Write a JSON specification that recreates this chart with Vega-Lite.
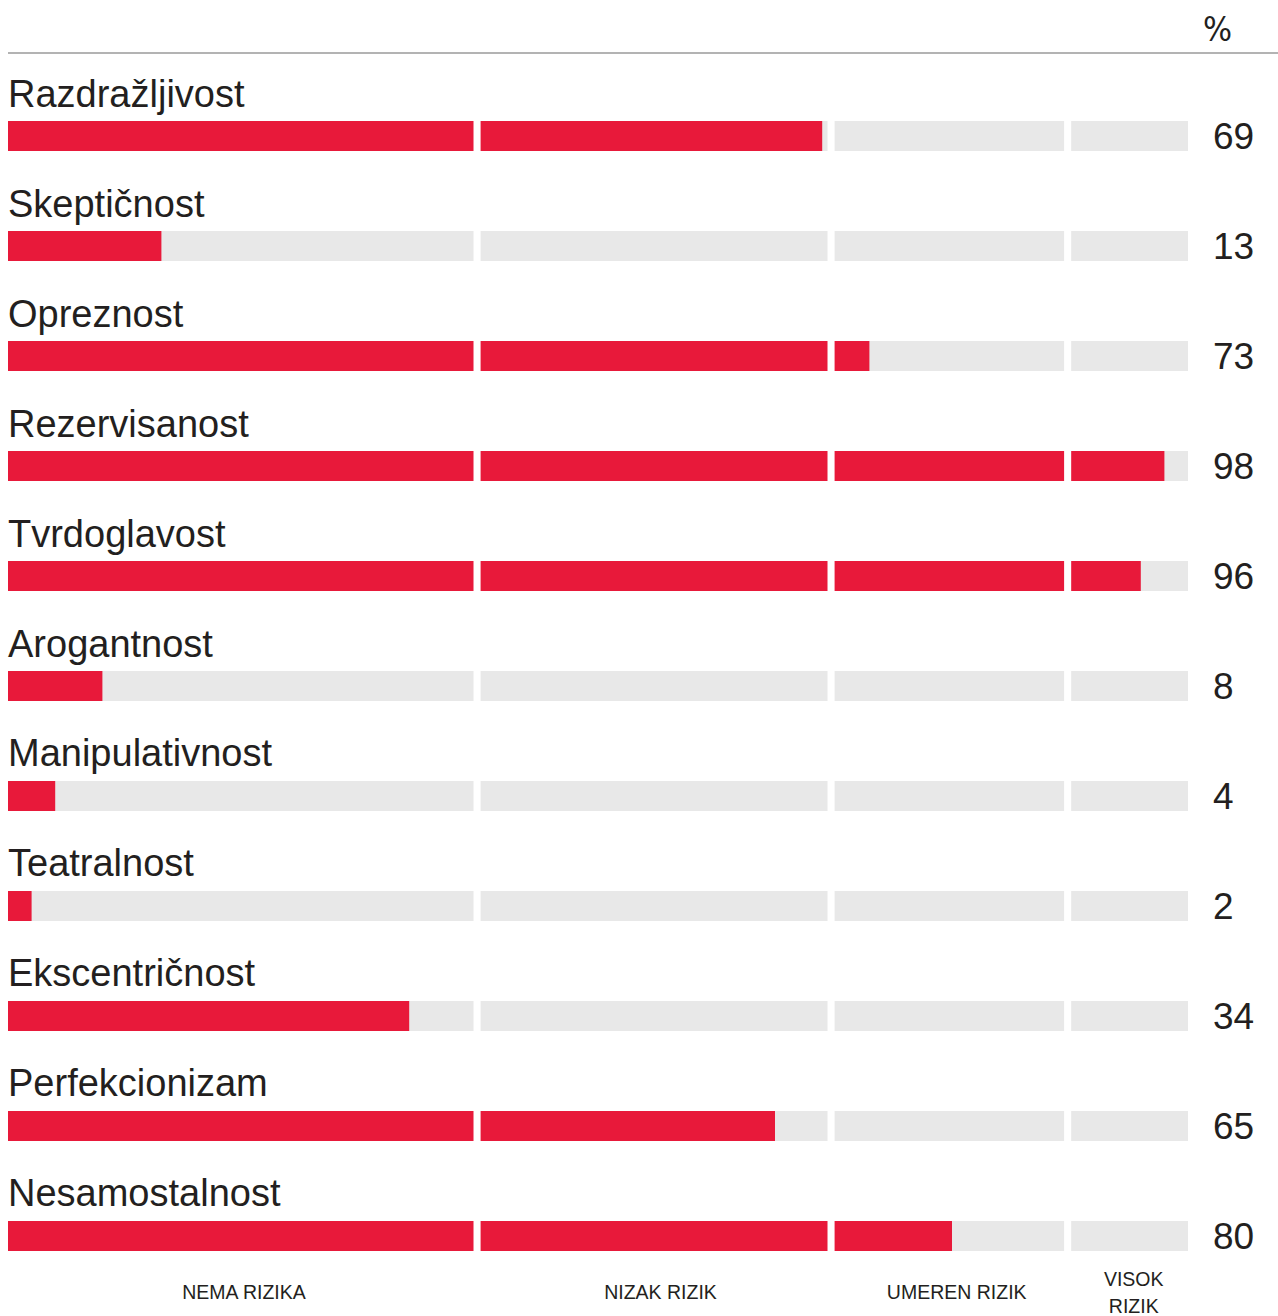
{
  "$schema": "https://vega.github.io/schema/vega-lite/v6.json",
  "width": 1270,
  "height": 1244,
  "autosize": {"type": "none"},
  "padding": {"left": 8, "top": 53, "right": 0, "bottom": 19},
  "background": "#ffffff",
  "config": {
    "view": {"stroke": null},
    "text": {"font": "Liberation Sans, Arial, sans-serif", "color": "#231f20"}
  },
  "datasets": {
    "rows": [
      {"name": "Razdražljivost", "value": 69},
      {"name": "Skeptičnost", "value": 13},
      {"name": "Opreznost", "value": 73},
      {"name": "Rezervisanost", "value": 98},
      {"name": "Tvrdoglavost", "value": 96},
      {"name": "Arogantnost", "value": 8},
      {"name": "Manipulativnost", "value": 4},
      {"name": "Teatralnost", "value": 2},
      {"name": "Ekscentričnost", "value": 34},
      {"name": "Perfekcionizam", "value": 65},
      {"name": "Nesamostalnost", "value": 80}
    ],
    "gaps": [
      {"g0": 39.45, "g1": 40.05},
      {"g0": 69.45, "g1": 70.05},
      {"g0": 89.5, "g1": 90.1}
    ],
    "segments": [
      {"label": "NEMA RIZIKA", "start": 0, "end": 40, "mid": 20, "lines": 1},
      {"label": "NIZAK RIZIK", "start": 40, "end": 70, "mid": 55.3, "lines": 1},
      {"label": "UMEREN RIZIK", "start": 70, "end": 90, "mid": 80.4, "lines": 1},
      {"label": "VISOK\nRIZIK", "start": 90, "end": 100, "mid": 95.4, "lines": 2}
    ]
  },
  "layer": [
    {
      "data": {"name": "rows"},
      "mark": {"type": "bar", "color": "#e8e8e8", "height": 30, "yOffset": 11},
      "encoding": {
        "y": {"field": "name", "type": "nominal", "sort": null, "axis": null,
              "scale": {"paddingInner": 0, "paddingOuter": 0.15455}},
        "x": {"datum": 0, "type": "quantitative", "axis": null,
              "scale": {"domain": [0, 107.627], "nice": false}},
        "x2": {"datum": 100}
      }
    },
    {
      "data": {"name": "rows"},
      "mark": {"type": "bar", "color": "#e8193a", "height": 30, "yOffset": 11},
      "encoding": {
        "y": {"field": "name", "type": "nominal", "sort": null, "axis": null},
        "x": {"field": "value", "type": "quantitative", "axis": null, "stack": null}
      }
    },
    {
      "data": {"name": "gaps"},
      "mark": {"type": "rect", "color": "#ffffff"},
      "encoding": {
        "x": {"field": "g0", "type": "quantitative", "axis": null},
        "x2": {"field": "g1"}
      }
    },
    {
      "data": {"values": [{"line": "top"}]},
      "mark": {"type": "rule", "color": "#9a9a9a", "strokeWidth": 1.5, "yOffset": -72},
      "encoding": {
        "y": {"datum": "Razdražljivost", "type": "nominal", "axis": null},
        "x": {"datum": 0, "type": "quantitative", "axis": null},
        "x2": {"datum": 107.627}
      }
    },
    {
      "data": {"values": [{"unit": "%"}]},
      "mark": {"type": "text", "align": "right", "baseline": "alphabetic", "fontSize": 34,
               "font": "Liberation Sans Narrow, DejaVu Sans Condensed, Liberation Sans, sans-serif",
               "dx": 44, "dy": -84.5},
      "encoding": {
        "y": {"datum": "Razdražljivost", "type": "nominal", "axis": null},
        "x": {"datum": 100, "type": "quantitative", "axis": null},
        "text": {"field": "unit"}
      }
    },
    {
      "data": {"name": "rows"},
      "mark": {"type": "text", "align": "left", "baseline": "alphabetic", "fontSize": 38, "dy": -18.5},
      "encoding": {
        "y": {"field": "name", "type": "nominal", "sort": null, "axis": null},
        "x": {"datum": 0, "type": "quantitative", "axis": null},
        "text": {"field": "name"}
      }
    },
    {
      "data": {"name": "rows"},
      "mark": {"type": "text", "align": "left", "baseline": "alphabetic", "fontSize": 37, "dy": 24, "dx": 25},
      "encoding": {
        "y": {"field": "name", "type": "nominal", "sort": null, "axis": null},
        "x": {"datum": 100, "type": "quantitative", "axis": null},
        "text": {"field": "value"}
      }
    },
    {
      "data": {"name": "segments"},
      "transform": [{"filter": "datum.lines == 1"}],
      "mark": {"type": "text", "align": "center", "baseline": "middle", "fontSize": 19.5, "dy": 68.4},
      "encoding": {
        "y": {"datum": "Nesamostalnost", "type": "nominal", "axis": null},
        "x": {"field": "mid", "type": "quantitative", "axis": null},
        "text": {"field": "label"}
      }
    },
    {
      "data": {"name": "segments"},
      "transform": [{"filter": "datum.lines == 2"}],
      "mark": {"type": "text", "align": "center", "baseline": "middle", "fontSize": 19.5, "lineBreak": "\n", "lineHeight": 27, "dy": 55},
      "encoding": {
        "y": {"datum": "Nesamostalnost", "type": "nominal", "axis": null},
        "x": {"field": "mid", "type": "quantitative", "axis": null},
        "text": {"field": "label"}
      }
    }
  ]
}
